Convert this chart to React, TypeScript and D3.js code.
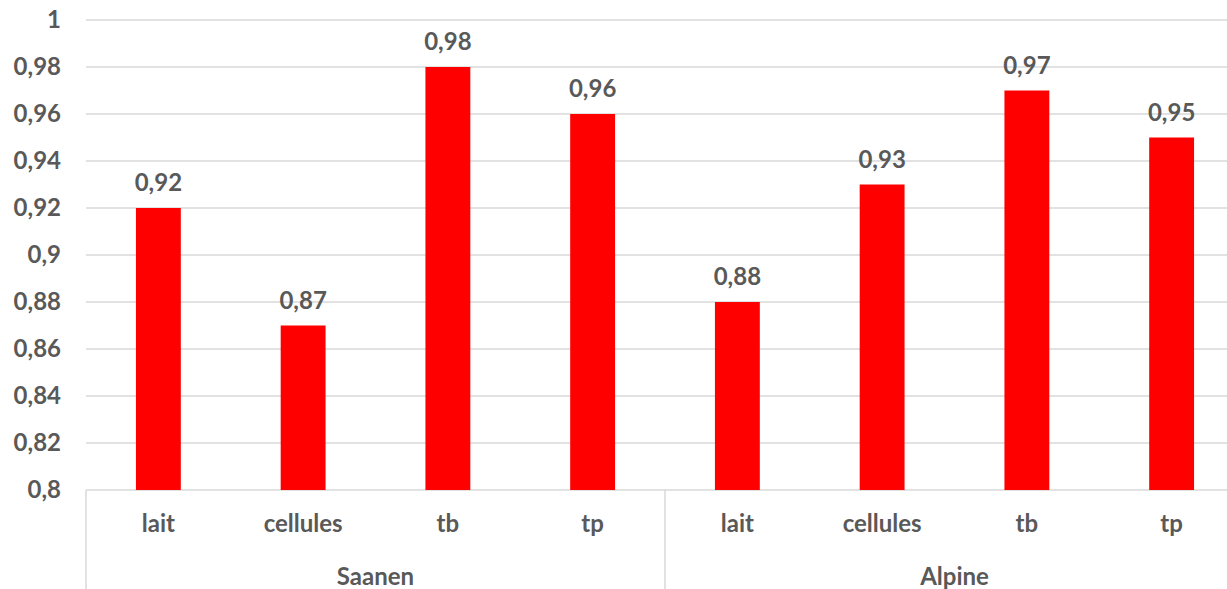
import React from "react";
import * as d3 from "d3";

const groups = ["Saanen", "Alpine"];
const categories = ["lait", "cellules", "tb", "tp"];
const saanenValues = [0.92, 0.87, 0.98, 0.96];
const alpineValues = [0.88, 0.93, 0.97, 0.95];
const yTicks = [0.8, 0.82, 0.84, 0.86, 0.88, 0.9, 0.92, 0.94, 0.96, 0.98, 1];

const W = 1227;
const H = 589;
const left = 86;
const right = 1244;
const top = 20;
const bottom = 490;

const fmt = (v: number) => String(+v.toFixed(2)).replace(".", ",");

export default function App() {
  const rows = groups.flatMap((g, gi) =>
    categories.map((c, ci) => ({
      key: `${g}-${c}`,
      group: g,
      cat: c,
      value: (gi === 0 ? saanenValues : alpineValues)[ci],
    }))
  );
  const x = d3
    .scaleBand<string>()
    .domain(rows.map((r) => r.key))
    .range([left, right])
    .paddingInner(0.69)
    .paddingOuter(0.345);
  const step = (right - left) / rows.length;
  const y = d3.scaleLinear().domain([0.8, 1]).range([bottom, top]);
  const font = "Lato, 'Open Sans', sans-serif";
  const color = "#595959";
  const fs = 24;
  const groupWidth = step * categories.length;

  return (
    <div style={{ position: "absolute", left: 0, top: 0, width: W, height: H, overflow: "hidden" }}>
      <svg width={W} height={H} style={{ display: "block" }}>
        <rect width={W} height={H} fill="#fff" />
        {yTicks.map((t) => (
          <g key={t}>
            <line x1={left} x2={right} y1={y(t)} y2={y(t)} stroke="#d9d9d9" strokeWidth={1.5} />
            <text
              x={61}
              y={y(t)}
              dy="0.35em"
              textAnchor="end"
              fontFamily={font}
              fontWeight={700}
              fontSize={fs}
              fill={color}
            >
              {fmt(t)}
            </text>
          </g>
        ))}
        {rows.map((r) => {
          const bx = x(r.key)!;
          const bw = x.bandwidth();
          return (
            <g key={r.key}>
              <rect x={bx} y={y(r.value)} width={bw} height={y(0.8) - y(r.value)} fill="#ff0000" />
              <text
                x={bx + bw / 2}
                y={y(r.value) - 25}
                dy="0.35em"
                textAnchor="middle"
                fontFamily={font}
                fontWeight={700}
                fontSize={fs}
                fill={color}
              >
                {fmt(r.value)}
              </text>
              <text
                x={bx + bw / 2}
                y={524}
                dy="0.35em"
                textAnchor="middle"
                fontFamily={font}
                fontWeight={700}
                fontSize={fs}
                fill={color}
              >
                {r.cat}
              </text>
            </g>
          );
        })}
        {groups.map((g, gi) => {
          const gx = left + gi * groupWidth;
          return (
            <g key={g}>
              <line x1={gx} x2={gx} y1={bottom} y2={H} stroke="#d9d9d9" strokeWidth={1.5} />
              <text
                x={gx + groupWidth / 2}
                y={577}
                dy="0.35em"
                textAnchor="middle"
                fontFamily={font}
                fontWeight={700}
                fontSize={fs}
                fill={color}
              >
                {g}
              </text>
            </g>
          );
        })}
      </svg>
    </div>
  );
}
